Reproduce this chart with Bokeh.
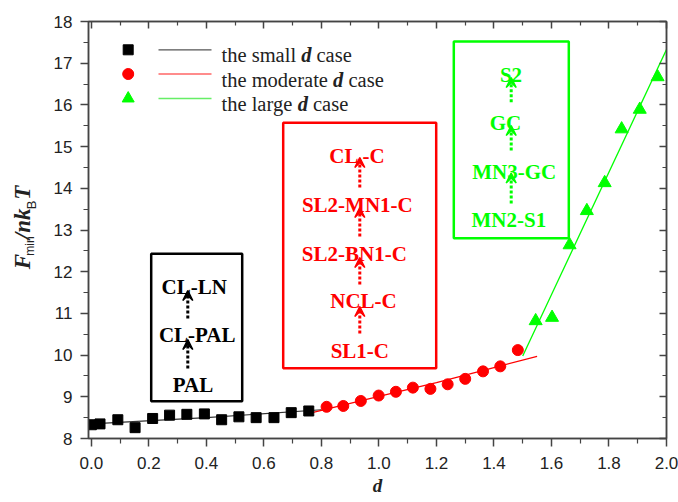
import numpy as np
from bokeh.plotting import figure
from bokeh.layouts import row
from bokeh.models import (Label, BoxAnnotation, Arrow, VeeHead, LinearAxis, Title,
                          FixedTicker, Range1d, PrintfTickFormatter)
from bokeh.embed import file_html
from bokeh.resources import INLINE

# ---------------- data ----------------
small_x = [0.0, 0.03, 0.092, 0.152, 0.213, 0.272, 0.332, 0.393, 0.453, 0.513, 0.573, 0.635, 0.695, 0.756]
small_y = [8.33, 8.35, 8.45, 8.26, 8.48, 8.56, 8.58, 8.59, 8.45, 8.52, 8.50, 8.50, 8.62, 8.66]
moderate_x = [0.818, 0.876, 0.937, 0.999, 1.059, 1.118, 1.179, 1.239, 1.30, 1.362, 1.422, 1.483]
moderate_y = [8.76, 8.78, 8.90, 9.03, 9.12, 9.22, 9.19, 9.30, 9.43, 9.61, 9.73, 10.12]
large_x = [1.545, 1.602, 1.663, 1.723, 1.785, 1.844, 1.907, 1.969]
large_y = [10.82, 10.90, 12.64, 13.46, 14.13, 15.42, 15.89, 16.67]

small_fit_x = [0.0, 0.4, 0.8]
small_fit_y = [8.35, 8.50, 8.69]
moderate_fit_x = [0.75, 1.0, 1.2, 1.4, 1.55]
moderate_fit_y = [8.59, 9.01, 9.34, 9.70, 9.97]
large_fit_x = [1.5, 2.0]
large_fit_y = [9.98, 17.33]

x_ticks = [0.0, 0.2, 0.4, 0.6, 0.8, 1.0, 1.2, 1.4, 1.6, 1.8, 2.0]
x_minor = [0.1, 0.3, 0.5, 0.7, 0.9, 1.1, 1.3, 1.5, 1.7, 1.9]
y_ticks = [8, 9, 10, 11, 12, 13, 14, 15, 16, 17, 18]
y_minor = [8.5, 9.5, 10.5, 11.5, 12.5, 13.5, 14.5, 15.5, 16.5, 17.5]

legend_labels = [("the small", "case"), ("the moderate", "case"), ("the large", "case")]
small_states = ["CL-LN", "CL-PAL", "PAL"]
moderate_states = ["CL -C", "SL2-MN1-C", "SL2-BN1-C", "NCL-C", "SL1-C"]
large_states = ["S2", "GC", "MN3-GC", "MN2-S1"]

BLACK = "#000000"
RED = "#ff0000"
GREEN = "#00ff00"
AXC = "#444444"
TXT = "#222222"
SERIF = "Liberation Serif"

X0, X1 = -0.01, 2.0
Y0, Y1 = 8.0, 18.0
FL, FT, FW, FH = 88.0, 21.0, 578.0, 417.0   # frame in page pixels
LW = 45          # width of the y-title strip
TOTAL_W, TOTAL_H = 678, 502
MAIN_W = TOTAL_W - LW


def px(xp):
    return X0 + (xp - FL) / FW * (X1 - X0)


def py(yp):
    return Y1 - (yp - FT) / FH * (Y1 - Y0)


p = figure(width=MAIN_W, height=TOTAL_H, x_range=Range1d(X0, X1), y_range=Range1d(Y0, Y1),
           output_backend="svg", toolbar_location=None,
           min_border_left=int(FL - LW), min_border_right=int(TOTAL_W - FL - FW),
           min_border_top=int(FT), min_border_bottom=int(TOTAL_H - FT - FH))
p.xgrid.visible = False
p.ygrid.visible = False
p.outline_line_color = AXC
p.outline_line_width = 1.5

xt = FixedTicker(ticks=x_ticks, minor_ticks=x_minor)
yt = FixedTicker(ticks=y_ticks, minor_ticks=y_minor)

for ax in p.xaxis:
    ax.ticker = xt
    ax.formatter = PrintfTickFormatter(format="%.1f")
for ax in p.yaxis:
    ax.ticker = yt
    ax.formatter = PrintfTickFormatter(format="%d")

for ax in list(p.xaxis) + list(p.yaxis):
    ax.axis_line_color = AXC
    ax.axis_line_width = 1.5
    ax.major_tick_line_color = AXC
    ax.minor_tick_line_color = AXC
    ax.major_tick_line_width = 1.5
    ax.minor_tick_line_width = 1.2
    ax.major_tick_in = 0
    ax.major_tick_out = 8
    ax.minor_tick_in = 0
    ax.minor_tick_out = 5
    ax.major_label_text_font = "Liberation Sans"
    ax.major_label_text_font_size = "17px"
    ax.major_label_text_color = TXT
p.xaxis.major_label_standoff = 10
p.yaxis.major_label_standoff = 8

for loc, tk in (("above", xt), ("right", yt)):
    ax = LinearAxis(ticker=tk, major_label_text_font_size="0px", major_label_text_alpha=0,
                    major_label_standoff=0, major_tick_in=7, major_tick_out=0,
                    minor_tick_in=4, minor_tick_out=0, axis_line_color=AXC, axis_line_width=1.5,
                    major_tick_line_color=AXC, minor_tick_line_color=AXC,
                    major_tick_line_width=1.5, minor_tick_line_width=1.2)
    p.add_layout(ax, loc)

# x-axis title as a title below the axis
p.add_layout(Title(text="d", align="center", text_font=SERIF, text_font_style="bold italic",
                   text_font_size="19px", text_color=TXT, standoff=3), "below")

# ---------------- fit lines and points ----------------
p.line(small_fit_x, small_fit_y, line_color="#333333", line_width=1.2)
p.line(moderate_fit_x, moderate_fit_y, line_color=RED, line_width=1.2)
p.line(large_fit_x, large_fit_y, line_color=GREEN, line_width=1.3)

p.scatter(small_x, small_y, marker="square", size=10, color=BLACK)
p.scatter(moderate_x, moderate_y, marker="circle", size=11, color=RED)
p.scatter(large_x, large_y, marker="triangle", size=13, color=GREEN)

# ---------------- legend (drawn by hand) ----------------
leg_rows = [49.3, 73.5, 98.0]
leg_cols = [BLACK, RED, GREEN]
leg_lcols = ["#555555", "#ff6666", "#66ee66"]
leg_markers = ["square", "circle", "triangle"]
leg_sizes = [10, 11, 12]
d_pos = [300.7, 332.6, 297.2]
case_pos = [316.0, 348.0, 312.5]
for i in range(3):
    yy = py(leg_rows[i])
    p.scatter([px(127.7)], [yy], marker=leg_markers[i], size=leg_sizes[i], color=leg_cols[i])
    p.segment(x0=[px(158)], y0=[yy], x1=[px(211)], y1=[yy], line_color=leg_lcols[i], line_width=1.3)
    yb = py(leg_rows[i] + 5.5)
    p.add_layout(Label(x=px(221), y=yb, text=legend_labels[i][0], text_font=SERIF,
                       text_font_size="20.5px", text_color=TXT, text_baseline="alphabetic"))
    p.add_layout(Label(x=px(d_pos[i]), y=yb, text="d", text_font=SERIF, text_font_style="bold italic",
                       text_font_size="20.5px", text_color=TXT, text_baseline="alphabetic"))
    p.add_layout(Label(x=px(case_pos[i]), y=yb, text=legend_labels[i][1], text_font=SERIF,
                       text_font_size="20.5px", text_color=TXT, text_baseline="alphabetic"))

# ---------------- boxes ----------------
boxes = [((150.7, 241.7, 253.3, 400.7), BLACK),
         ((282.7, 435.7, 122.3, 367.7), RED),
         ((453.3, 568.3, 41.0, 237.7), GREEN)]
for (l, r, t, b), c in boxes:
    p.add_layout(BoxAnnotation(left=px(l), right=px(r), top=py(t), bottom=py(b),
                               fill_color=None, fill_alpha=0, line_color=c, line_alpha=1.0,
                               line_width=2.5))


# ---------------- state labels ----------------
def state_labels(names, xs, baselines, color):
    for n, xx, yb in zip(names, xs, baselines):
        p.add_layout(Label(x=px(xx), y=py(yb), text=n, text_font=SERIF, text_font_style="bold",
                           text_font_size="21px", text_color=color, text_align="center",
                           text_baseline="alphabetic"))


state_labels(small_states, [193.7, 196.7, 192.5], [286.5, 334.5, 384.5], BLACK)
state_labels(moderate_states, [357.0, 356.8, 353.8, 363.0, 359.3],
             [155.5, 204.5, 253.0, 300.5, 350.0], RED)
state_labels(large_states, [510.5, 505.0, 513.7, 508.3], [74.0, 122.5, 171.0, 219.5], GREEN)


# ---------------- dotted arrows ----------------
def arrows(xx, pairs, color):
    for ybot, ytip in pairs:
        p.add_layout(Arrow(end=VeeHead(size=10, fill_color=color, line_color=color, line_width=1.5),
                           x_start=px(xx), y_start=py(ybot), x_end=px(xx), y_end=py(ytip),
                           line_color=color, line_width=3, line_dash="3 2"))


arrows(187.3, [(318, 290), (368, 339)], BLACK)
arrows(359.3, [(187, 157), (236, 207), (284, 257), (333, 306)], RED)
arrows(510.7, [(101.7, 77), (150, 125), (203, 172.5)], GREEN)

# ---------------- y title strip (page pixel coordinates) ----------------
yfig = figure(width=LW, height=TOTAL_H, x_range=Range1d(0, LW), y_range=Range1d(TOTAL_H, 0),
              output_backend="svg", toolbar_location=None, x_axis_type=None, y_axis_type=None,
              min_border=0, outline_line_color=None)
yfig.xgrid.visible = False
yfig.ygrid.visible = False
ylab = [("F", 22.0, 298.3, "23px", SERIF, "bold italic"),
        ("min", 29.0, 282.0, "12px", "Liberation Sans", "normal"),
        ("/nk", 22.0, 262.0, "23px", SERIF, "bold italic"),
        ("B", 30.5, 226.0, "13px", "Liberation Sans", "normal"),
        ("T", 22.0, 214.5, "23px", SERIF, "bold italic")]
for t, xx, yy, fs, ff, st in ylab:
    yfig.add_layout(Label(x=xx, y=yy, text=t, text_font=ff, text_font_style=st,
                          text_font_size=fs, text_color=TXT, angle=np.pi / 2,
                          text_align="left", text_baseline="alphabetic"))

layout = row(yfig, p, spacing=0)
open("out.html", "w").write(file_html(layout, INLINE))
